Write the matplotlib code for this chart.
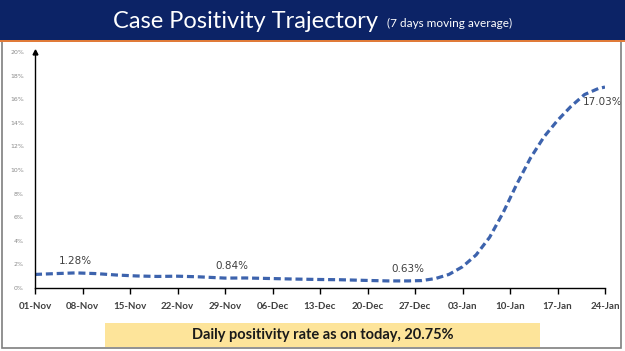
import matplotlib

matplotlib.use("Agg")
import matplotlib.pyplot as plt
from matplotlib.patches import Rectangle

# days since 01-Nov and 7-day moving average positivity (%)
days = [0, 3, 6, 9, 12, 15, 18, 21, 24, 28, 31, 35, 38, 42, 45, 49, 52, 55, 57,
        59, 61, 63, 65, 67, 69, 71, 73, 75, 77, 79, 81, 83, 84]
positivity = [1.15, 1.22, 1.28, 1.22, 1.10, 1.02, 0.98, 1.00, 0.95, 0.84, 0.85,
              0.80, 0.76, 0.72, 0.70, 0.64, 0.60, 0.60, 0.63, 0.80, 1.15, 1.80,
              2.80, 4.30, 6.40, 8.80, 11.0, 12.8, 14.2, 15.4, 16.4, 16.9, 17.03]

tick_days = [0, 7, 14, 21, 28, 35, 42, 49, 56, 63, 70, 77, 84]
tick_labels = ["01-Nov", "08-Nov", "15-Nov", "22-Nov", "29-Nov", "06-Dec", "13-Dec",
               "20-Dec", "27-Dec", "03-Jan", "10-Jan", "17-Jan", "24-Jan"]
y_ticks = [0, 2, 4, 6, 8, 10, 12, 14, 16, 18, 20]

callouts = [(6, 1.28, "1.28%"), (29, 0.84, "0.84%"), (55, 0.63, "0.63%"), (84, 17.03, "17.03%")]

W, H = 625, 351
fig = plt.figure(figsize=(W / 100, H / 100), dpi=100)

# slide frame + header banner
fig.patches.append(Rectangle((2 / W, 3 / H), 619 / W, 346 / H, transform=fig.transFigure,
                             fill=False, edgecolor="#7f7f7f", lw=1.2))
fig.patches.append(Rectangle((0, 1 - 40 / H), 1, 40 / H, transform=fig.transFigure,
                             facecolor="#0c2366", edgecolor="none"))
fig.patches.append(Rectangle((0, 1 - 42 / H), 1, 2 / H, transform=fig.transFigure,
                             facecolor="#e07b39", edgecolor="none"))
fig.text(113 / W, 1 - 21 / H, "Case Positivity Trajectory", color="white",
         fontsize=17, family="Lato", ha="left", va="center")
fig.text(387 / W, 1 - 23 / H, "(7 days moving average)", color="white",
         fontsize=8.5, family="Lato", ha="left", va="center")

# yellow footer box
fig.patches.append(Rectangle((105 / W, 1 - 347 / H), 435 / W, 24 / H, transform=fig.transFigure,
                             facecolor="#fde49a", edgecolor="none"))
fig.text(323 / W, 1 - 335 / H, "Daily positivity rate as on today, 20.75%",
         fontsize=10.5, fontweight="bold", family="Lato", color="#1a1a1a",
         ha="center", va="center")

ax = fig.add_axes([35 / W, 1 - 288 / H, 570 / W, 236 / H])
ax.plot(days, positivity, color="#3d63ad", lw=2.3, linestyle=(0, (2.2, 1.2)),
        solid_capstyle="butt")
ax.set_xlim(0, 84)
ax.set_ylim(0, 20)
for s in ["top", "right"]:
    ax.spines[s].set_visible(False)
ax.spines["left"].set_linewidth(1.0)
ax.spines["bottom"].set_linewidth(1.0)
ax.plot(0, 20, marker="^", color="black", markersize=3.5, clip_on=False)

ax.set_xticks(tick_days)
ax.set_xticklabels(tick_labels, fontsize=7, fontweight="bold", color="#404040", family="Lato")
ax.set_yticks(y_ticks)
ax.set_yticklabels([f"{v}%" for v in y_ticks], fontsize=4.5, color="#8a8a8a")
ax.tick_params(axis="x", length=4, width=1, direction="out", pad=6)
ax.tick_params(axis="y", length=0, pad=8)

for d, v, txt in callouts:
    if d == 84:
        ax.text(d - 0.3, v - 1.3, txt, fontsize=7.5, color="#404040", ha="center", va="center",
                clip_on=False)
    else:
        ax.text(d, v + 1.0, txt, fontsize=7.5, color="#404040", ha="center", va="center")

fig.savefig("out.png", dpi=100)
